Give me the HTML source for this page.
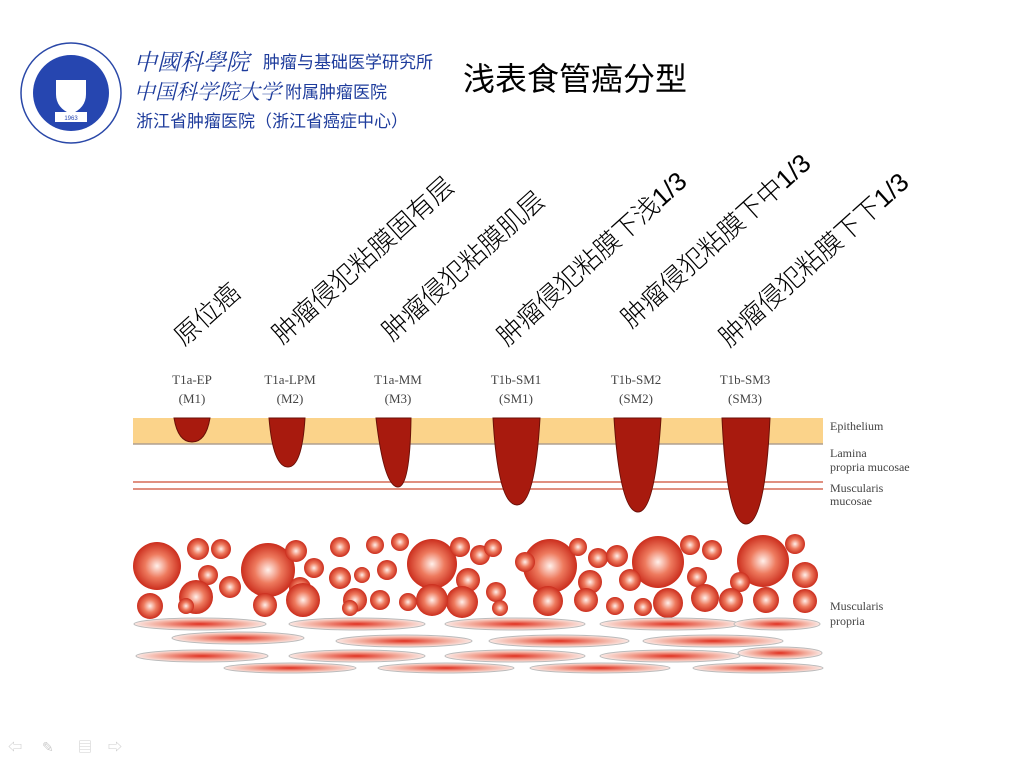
<!DOCTYPE html>
<html><head><meta charset="utf-8"><style>
body{margin:0;background:#fff;width:1024px;height:768px;overflow:hidden;font-family:"Liberation Sans","Noto Sans CJK SC",sans-serif}
</style></head><body>
<svg width="1024" height="768" xmlns="http://www.w3.org/2000/svg" style="position:absolute;left:0;top:0">
<defs>
<radialGradient id="c" cx="50%" cy="50%" r="55%"><stop offset="0" stop-color="#fff0ea"/><stop offset="0.45" stop-color="#ee7a5e"/><stop offset="1" stop-color="#c41e10"/></radialGradient>
<radialGradient id="e" cx="50%" cy="50%" r="50%"><stop offset="0" stop-color="#e03020"/><stop offset="0.6" stop-color="#f2a898"/><stop offset="1" stop-color="#fbe8e4"/></radialGradient>
</defs>
<!-- logo -->
<circle cx="71" cy="93" r="50" fill="#fff" stroke="#2a48a8" stroke-width="1.5"/>
<circle cx="71" cy="93" r="38" fill="#2646b0"/>
<path d="M56 80 h30 v14 q0 14 -15 20 q-15 -6 -15 -20z" fill="#fff"/>
<rect x="55" y="112" width="32" height="10" fill="#fff"/>
<text x="71" y="120" font-size="6" fill="#2646b0" text-anchor="middle">1963</text>
<g font-size="23" fill="#1e3c9c" font-family="'Noto Serif CJK SC',serif" font-style="italic">
<text x="134" y="70">中國科學院</text>
<text x="134" y="99" font-size="21">中国科学院大学</text>
</g>
<g font-size="17" fill="#1e3c9c">
<text x="263" y="68">肿瘤与基础医学研究所</text>
<text x="285" y="98">附属肿瘤医院</text>
<text x="136" y="127">浙江省肿瘤医院（浙江省癌症中心）</text>
</g>
<text x="463" y="90" font-size="32" fill="#000">浅表食管癌分型</text>
<!-- rotated labels -->
<g font-size="26" fill="#000" font-weight="300">
<text transform="translate(184,347) rotate(-42)">原位癌</text>
<text transform="translate(282,345) rotate(-42)">肿瘤侵犯粘膜固有层</text>
<text transform="translate(392,342) rotate(-42)">肿瘤侵犯粘膜肌层</text>
<text transform="translate(507,347) rotate(-42)">肿瘤侵犯粘膜下浅1/3</text>
<text transform="translate(631,329) rotate(-42)">肿瘤侵犯粘膜下中1/3</text>
<text transform="translate(729,348) rotate(-42)">肿瘤侵犯粘膜下下1/3</text>
</g>
<!-- stage labels -->
<g font-size="13" fill="#444" font-family="'Liberation Serif',serif" text-anchor="middle">
<text x="192" y="384">T1a-EP</text><text x="192" y="403">(M1)</text>
<text x="290" y="384">T1a-LPM</text><text x="290" y="403">(M2)</text>
<text x="398" y="384">T1a-MM</text><text x="398" y="403">(M3)</text>
<text x="516" y="384">T1b-SM1</text><text x="516" y="403">(SM1)</text>
<text x="636" y="384">T1b-SM2</text><text x="636" y="403">(SM2)</text>
<text x="745" y="384">T1b-SM3</text><text x="745" y="403">(SM3)</text>
</g>
<!-- layers -->
<rect x="133" y="418" width="690" height="26" fill="#fbd38a"/>
<line x1="133" y1="444" x2="823" y2="444" stroke="#b0a090" stroke-width="1.5"/>
<line x1="133" y1="482" x2="823" y2="482" stroke="#e09080" stroke-width="2"/>
<line x1="133" y1="489" x2="823" y2="489" stroke="#e09080" stroke-width="2"/>
<g fill="#a81a0e" stroke="#6a1008" stroke-width="1">
<path d="M174 418 h36 Q206 442 192 442 Q178 442 174 418z"/>
<path d="M269 418 h36 Q302 467 288 467 Q273 467 269 418z"/>
<path d="M376 418 h35 Q410 487 398 487 Q384 487 376 418z"/>
<path d="M493 418 h47 Q535 505 517 505 Q498 505 493 418z"/>
<path d="M614 418 h47 Q655 512 638 512 Q620 512 614 418z"/>
<path d="M722 418 h48 Q765 524 746 524 Q727 524 722 418z"/>
</g>
<g font-size="12" fill="#444" font-family="'Liberation Serif',serif">
<text x="830" y="430">Epithelium</text>
<text x="830" y="457">Lamina</text><text x="830" y="471">propria mucosae</text>
<text x="830" y="492">Muscularis</text><text x="830" y="505">mucosae</text>
<text x="830" y="610">Muscularis</text><text x="830" y="625">propria</text>
</g>
<!-- cells -->
<g fill="url(#c)">
<circle cx="157" cy="566" r="24"/><circle cx="198" cy="549" r="11"/><circle cx="221" cy="549" r="10"/>
<circle cx="208" cy="575" r="10"/><circle cx="230" cy="587" r="11"/><circle cx="196" cy="597" r="17"/>
<circle cx="150" cy="606" r="13"/><circle cx="186" cy="606" r="8"/><circle cx="268" cy="570" r="27"/>
<circle cx="296" cy="551" r="11"/><circle cx="314" cy="568" r="10"/><circle cx="300" cy="588" r="11"/>
<circle cx="265" cy="605" r="12"/><circle cx="303" cy="600" r="17"/><circle cx="340" cy="547" r="10"/>
<circle cx="375" cy="545" r="9"/><circle cx="400" cy="542" r="9"/><circle cx="340" cy="578" r="11"/>
<circle cx="362" cy="575" r="8"/><circle cx="387" cy="570" r="10"/><circle cx="355" cy="600" r="12"/>
<circle cx="380" cy="600" r="10"/><circle cx="350" cy="608" r="8"/><circle cx="432" cy="564" r="25"/>
<circle cx="460" cy="547" r="10"/><circle cx="480" cy="555" r="10"/><circle cx="468" cy="580" r="12"/>
<circle cx="462" cy="602" r="16"/><circle cx="432" cy="600" r="16"/><circle cx="408" cy="602" r="9"/>
<circle cx="496" cy="592" r="10"/><circle cx="500" cy="608" r="8"/><circle cx="550" cy="566" r="27"/>
<circle cx="578" cy="547" r="9"/><circle cx="598" cy="558" r="10"/><circle cx="590" cy="582" r="12"/>
<circle cx="586" cy="600" r="12"/><circle cx="548" cy="601" r="15"/><circle cx="615" cy="606" r="9"/>
<circle cx="658" cy="562" r="26"/><circle cx="690" cy="545" r="10"/><circle cx="712" cy="550" r="10"/>
<circle cx="697" cy="577" r="10"/><circle cx="705" cy="598" r="14"/><circle cx="668" cy="603" r="15"/>
<circle cx="630" cy="580" r="11"/><circle cx="643" cy="607" r="9"/><circle cx="763" cy="561" r="26"/>
<circle cx="795" cy="544" r="10"/><circle cx="740" cy="582" r="10"/><circle cx="805" cy="575" r="13"/>
<circle cx="766" cy="600" r="13"/><circle cx="805" cy="601" r="12"/><circle cx="731" cy="600" r="12"/>
<circle cx="617" cy="556" r="11"/><circle cx="525" cy="562" r="10"/><circle cx="493" cy="548" r="9"/>
</g>
<!-- ellipses -->
<g fill="url(#e)" stroke="#bbb" stroke-width="1">
<ellipse cx="200" cy="624" rx="66" ry="6"/><ellipse cx="357" cy="624" rx="68" ry="6"/><ellipse cx="515" cy="624" rx="70" ry="6"/><ellipse cx="670" cy="624" rx="70" ry="6"/><ellipse cx="777" cy="624" rx="43" ry="6"/>
<ellipse cx="238" cy="638" rx="66" ry="6"/><ellipse cx="404" cy="641" rx="68" ry="6"/><ellipse cx="559" cy="641" rx="70" ry="6"/><ellipse cx="713" cy="641" rx="70" ry="6"/>
<ellipse cx="202" cy="656" rx="66" ry="6"/><ellipse cx="357" cy="656" rx="68" ry="6"/><ellipse cx="515" cy="656" rx="70" ry="6"/><ellipse cx="670" cy="656" rx="70" ry="6"/><ellipse cx="780" cy="653" rx="42" ry="6"/>
<ellipse cx="290" cy="668" rx="66" ry="5"/><ellipse cx="446" cy="668" rx="68" ry="5"/><ellipse cx="600" cy="668" rx="70" ry="5"/><ellipse cx="758" cy="668" rx="65" ry="5"/>
</g>
<!-- nav -->
<g fill="#ccc" font-size="14"><text x="8" y="752">⇦</text><text x="42" y="752">✎</text><text x="78" y="752">▤</text><text x="108" y="752">⇨</text></g>
</svg>
</body></html>
